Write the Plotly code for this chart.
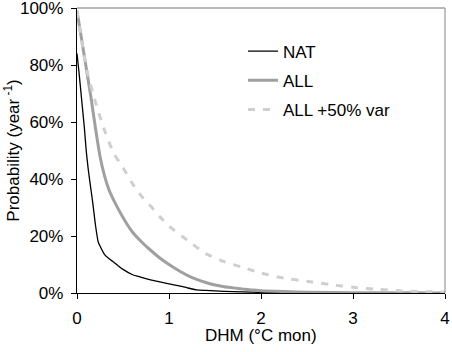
import plotly.graph_objects as go

# DHM (°C mon) and exceedance probability (%)
nat_x = [0, 0.02, 0.05, 0.08, 0.1, 0.12, 0.14, 0.17, 0.2, 0.23, 0.25, 0.3, 0.35, 0.4, 0.45, 0.5,
         0.6, 0.7, 0.8, 0.9, 1.0, 1.1, 1.2, 1.3, 1.4, 1.6, 1.8, 2.0, 2.5, 3.0, 4.0]
nat_y = [84, 78, 68, 58, 50, 44, 39, 32, 24, 18, 16.5, 13.5, 12, 10.8, 9.5, 8.3,
         6.5, 5.5, 4.6, 3.9, 3.2, 2.6, 1.8, 1.1, 0.9, 0.6, 0.4, 0.2, 0.05, 0, 0]

all_x = [0, 0.05, 0.1, 0.15, 0.2, 0.25, 0.3, 0.35, 0.4, 0.5, 0.6, 0.7, 0.8, 0.9, 1.0, 1.1, 1.2,
         1.3, 1.4, 1.5, 1.6, 1.7, 1.8, 1.9, 2.0, 2.25, 2.5, 3.0, 3.5, 4.0]
all_y = [99, 89, 79, 69, 58, 48, 41, 36, 32.5, 26.5, 21.5, 18, 15, 12.3, 10, 8, 6.2,
         4.8, 3.7, 2.8, 2.2, 1.8, 1.4, 1.1, 0.8, 0.5, 0.3, 0.1, 0.05, 0]

var_x = [0, 0.05, 0.1, 0.2, 0.3, 0.4, 0.5, 0.6, 0.7, 0.8, 0.9, 1.0, 1.2, 1.4, 1.6, 1.8, 2.0,
         2.25, 2.5, 2.75, 3.0, 3.25, 3.5, 3.75, 4.0]
var_y = [99, 89, 79, 67, 57, 49, 44, 38.5, 34, 30.5, 26.8, 23.5, 18.5, 13.8, 11, 9, 7,
         5.2, 4.1, 3, 2, 1.3, 0.8, 0.5, 0.3]

x_ticks = [0, 1, 2, 3, 4]
y_ticks = [0, 20, 40, 60, 80, 100]
y_tick_labels = ["0%", "20%", "40%", "60%", "80%", "100%"]

FONT = "Liberation Sans, Arial, sans-serif"

fig = go.Figure()
fig.add_trace(go.Scatter(x=nat_x, y=nat_y, mode="lines", name="NAT", legendgroup="a",
                         line=dict(color="black", width=1.3, shape="spline", smoothing=0.6)))
fig.add_trace(go.Scatter(x=all_x, y=all_y, mode="lines", name="ALL", legendgroup="b",
                         line=dict(color="#a0a0a0", width=3, shape="spline", smoothing=0.6)))
fig.add_trace(go.Scatter(x=var_x, y=var_y, mode="lines", name="ALL +50% var", legendgroup="c",
                         line=dict(color="#cfcfcf", width=3, dash="7px,8px", shape="spline", smoothing=0.6)))

fig.update_layout(
    width=452, height=352,
    margin=dict(l=77, r=7, t=8, b=59),
    paper_bgcolor="white", plot_bgcolor="white",
    font=dict(family=FONT, size=17, color="black"),
    showlegend=True,
    legend=dict(x=0.451, y=0.91, xanchor="left", yanchor="top", bgcolor="rgba(0,0,0,0)",
                font=dict(size=17), tracegroupgap=4, traceorder="grouped"),
    xaxis=dict(range=[0, 4], tickvals=x_ticks, showgrid=False, zeroline=False,
               showline=True, linecolor="black", linewidth=1.3, automargin=False,
               ticks="outside", ticklen=5, tickcolor="black", tickwidth=1.3,
               ticklabeloverflow="allow", ticklabelstandoff=4),
    yaxis=dict(range=[0, 100], tickvals=y_ticks, ticktext=y_tick_labels, showgrid=False,
               zeroline=False, showline=True, linecolor="black", linewidth=1.3, automargin=False,
               ticks="outside", ticklen=5, tickcolor="black", tickwidth=1.3,
               ticklabeloverflow="allow", ticklabelstandoff=4),
)
# axis titles
fig.add_annotation(text="DHM (°C mon)", xref="paper", yref="paper", x=0.5, y=-0.148,
                   xanchor="center", yanchor="middle", showarrow=False, font=dict(size=17))
fig.add_annotation(text="Probability (year<sup> -1</sup>)", xref="paper", yref="paper",
                   x=-0.179, y=0.5, xanchor="center", yanchor="middle", textangle=-90,
                   showarrow=False, font=dict(size=17))
# gray top and right frame lines
fig.add_shape(type="line", xref="paper", yref="paper", x0=0, x1=1, y0=1, y1=1,
              line=dict(color="#a0a0a0", width=1.3))
fig.add_shape(type="line", xref="paper", yref="paper", x0=1, x1=1, y0=0, y1=1,
              line=dict(color="#a0a0a0", width=1.3))

fig.write_html("out.html", config={"displayModeBar": False},
               post_script="document.body.style.margin='0';document.body.style.overflow='hidden';")
